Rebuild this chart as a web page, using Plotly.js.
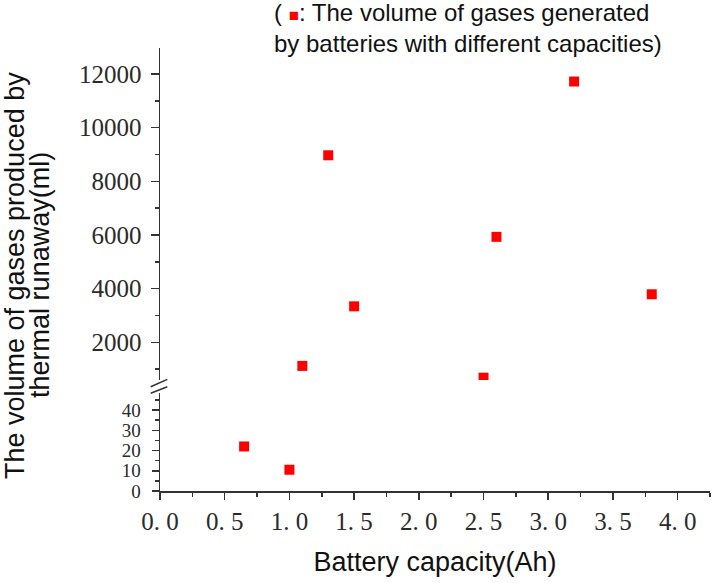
<!DOCTYPE html>
<html>
<head>
<meta charset="utf-8">
<script src="https://cdn.plot.ly/plotly-3.0.1.min.js"></script>
<style>html,body{margin:0;padding:0;background:#fff;}#chart{width:713px;height:583px;}</style>
</head>
<body>
<div id="chart"></div>
<script>
// Data
var capacity = [0.65, 1.0, 1.1, 1.3, 1.5, 2.5, 2.6, 3.2, 3.8];
var volume = [22, 10.5, 1120, 8970, 3340, 680, 5930, 11720, 3790];
var xTickVals = [0, 0.5, 1.0, 1.5, 2.0, 2.5, 3.0, 3.5, 4.0];
var xTickText = ['0. 0', '0. 5', '1. 0', '1. 5', '2. 0', '2. 5', '3. 0', '3. 5', '4. 0'];
var yTitleLines = ['The volume of gases produced by', 'thermal runaway(ml)'];
var breakValue = 100;

var lowX = [], lowY = [], highX = [], highY = [];
for (var i = 0; i < capacity.length; i++) {
  if (volume[i] < breakValue) { lowX.push(capacity[i]); lowY.push(volume[i]); }
  else { highX.push(capacity[i]); highY.push(volume[i]); }
}

var markerStyle = {symbol: 'square', size: 10, color: '#ff0000', line: {width: 0}};
var traces = [
  {x: lowX, y: lowY, type: 'scatter', mode: 'markers', marker: markerStyle, xaxis: 'x', yaxis: 'y', showlegend: false},
  {x: highX, y: highY, type: 'scatter', mode: 'markers', marker: markerStyle, xaxis: 'x', yaxis: 'y2', showlegend: false}
];

var axisColor = '#333333';
var serif = 'Liberation Serif, Times New Roman, serif';
var sans = 'Liberation Sans, Arial, sans-serif';
var tickColor = '#2a2a2a';

var layout = {
  width: 713, height: 583,
  margin: {l: 160, r: 3, t: 48, b: 92},
  paper_bgcolor: '#ffffff', plot_bgcolor: '#ffffff',
  showlegend: false,
  xaxis: {
    range: [0, 4.25], showgrid: false, zeroline: false,
    showline: true, linecolor: axisColor, linewidth: 1.5,
    ticks: 'outside', ticklen: 7, tickwidth: 1.5, tickcolor: axisColor,
    tickmode: 'array', tickvals: xTickVals, ticktext: xTickText,
    ticklabelstandoff: 0,
    minor: {dtick: 0.25, tick0: 0, ticks: 'outside', ticklen: 4, tickwidth: 1.5, tickcolor: axisColor, showgrid: false},
    tickfont: {family: serif, size: 25, color: tickColor},
    title: {text: 'Battery capacity(Ah)', font: {family: sans, size: 27, color: '#111'}, standoff: 18},
    anchor: 'y'
  },
  yaxis: {
    domain: [0, 0.2212], range: [0, 48.4], showgrid: false, zeroline: false,
    showline: true, linecolor: axisColor, linewidth: 1.5,
    ticks: 'outside', ticklen: 7, tickwidth: 1.5, tickcolor: axisColor,
    dtick: 10, tick0: 0, ticklabelstandoff: 7, tickformat: 'd',
    minor: {dtick: 5, tick0: 0, ticks: 'outside', ticklen: 4, tickwidth: 1.5, tickcolor: axisColor, showgrid: false},
    tickfont: {family: serif, size: 19, color: tickColor},
    anchor: 'x'
  },
  yaxis2: {
    domain: [0.2506, 1], range: [595, 12969], showgrid: false, zeroline: false,
    showline: true, linecolor: axisColor, linewidth: 1.5,
    ticks: 'outside', ticklen: 8, tickwidth: 1.5, tickcolor: axisColor,
    dtick: 2000, tick0: 0, ticklabelstandoff: 4, tickformat: 'd',
    minor: {dtick: 1000, tick0: 0, ticks: 'outside', ticklen: 4, tickwidth: 1.5, tickcolor: axisColor, showgrid: false},
    tickfont: {family: serif, size: 25, color: tickColor},
    anchor: 'x'
  },
  shapes: [
    {type: 'line', xref: 'paper', yref: 'paper', x0: -0.0169, x1: 0.0133, y0: 0.2354, y1: 0.2521, line: {color: axisColor, width: 1.5}},
    {type: 'line', xref: 'paper', yref: 'paper', x0: -0.0169, x1: 0.0133, y0: 0.2205, y1: 0.2354, line: {color: axisColor, width: 1.5}}
  ],
  annotations: [
    {xref: 'paper', yref: 'paper', x: -0.264, y: 0.487, xanchor: 'center', yanchor: 'middle',
     textangle: -90, showarrow: false, align: 'center',
     text: yTitleLines[0],
     font: {family: sans, size: 27, color: '#111'}},
    {xref: 'paper', yref: 'paper', x: -0.217, y: 0.487, xanchor: 'center', yanchor: 'middle',
     textangle: -90, showarrow: false, align: 'center',
     text: yTitleLines[1],
     font: {family: sans, size: 27, color: '#111'}},
    {xref: 'paper', yref: 'paper', x: 0.2036, y: 1.1154, xanchor: 'left', yanchor: 'top',
     showarrow: false, align: 'left',
     text: '( <span style="color:#ff0000;font-size:17px">■</span>: The volume of gases generated<br>by batteries with different capacities)',
     font: {family: sans, size: 24, color: '#111'}}
  ]
};

Plotly.newPlot('chart', traces, layout, {displayModeBar: false, staticPlot: true});
</script>
</body>
</html>
